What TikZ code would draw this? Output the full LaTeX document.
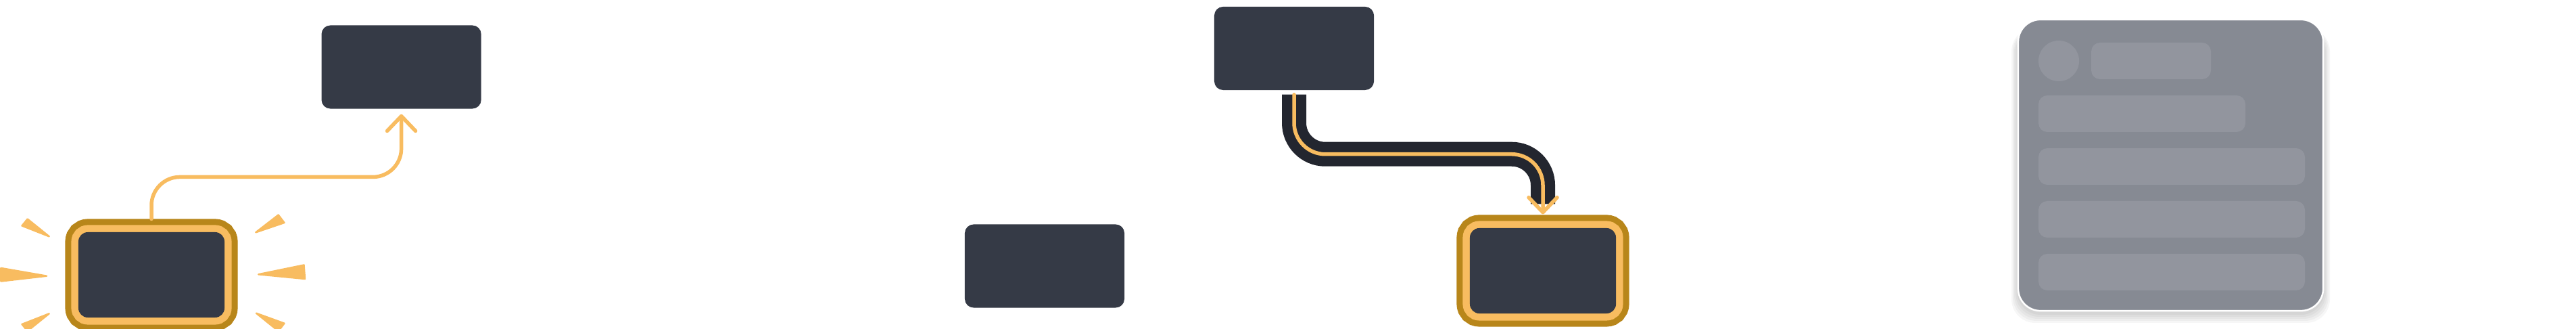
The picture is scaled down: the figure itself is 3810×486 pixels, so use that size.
\documentclass[tikz,border=0pt]{standalone}
\usepackage{tikz}
\usepackage{xcolor}
\usetikzlibrary{arrows.meta}

\definecolor{slate}{HTML}{353A46}
\definecolor{wire}{HTML}{23262F}
\definecolor{glow}{HTML}{F8BC60}
\definecolor{gold}{HTML}{B8861A}
\definecolor{cardgray}{HTML}{868A93}
\definecolor{bone}{HTML}{92959E}

\tikzset{
    block/.style={rectangle, rounded corners=0.13cm, fill=slate, inner sep=0pt,
        minimum width=2.36cm, minimum height=1.23cm},
    litblock/.style={block, rounded corners=0.14cm, minimum width=2.16cm,
        minimum height=1.26cm, outer sep=0.195cm,
        preaction={draw=gold, line width=0.39cm},
        preaction={draw=glow, line width=0.21cm}},
    flow/.style={draw=glow, line width=0.055cm, line cap=round, rounded corners=0.42cm,
        -{Straight Barb[length=0.22cm, width=0.42cm, round]}},
    track/.style={draw=wire, line width=0.36cm, rounded corners=0.46cm},
    ray/.style={fill=glow, draw=glow, line width=0.025cm, line join=round},
    card/.style={rectangle, rounded corners=0.33cm, fill=cardgray, draw=white,
        line width=0.025cm, inner sep=0pt, minimum width=4.51cm, minimum height=4.30cm},
    skeleton/.style={fill=bone, rounded corners=0.13cm}
}

\begin{document}
    \begin{tikzpicture}[x=0.01cm, y=-0.01cm]
        \useasboundingbox (0,0) rectangle (3810,486);

        % Draw the glowing block and its sparkle rays
        \node[litblock] (lit1) at (224,406) {};
        \node[block] (top1) at (593.6,99) {};
        \foreach \t/\a/\b in {{(72.7,349.3)}/{(32.5,333.5)}/{(40.7,323.5)},
                              {(69,407.7)}/{(1.5,396)}/{(1.5,415.5)},
                              {(72.7,463.3)}/{(32.5,479)}/{(40.7,489)},
                              {(378.3,343.3)}/{(411.7,317.5)}/{(420.5,329)},
                              {(382.3,405.3)}/{(449.5,391.5)}/{(451,412)},
                              {(379,462.7)}/{(420.5,477.7)}/{(411.7,489)}}
            \filldraw[ray] \t -- \a -- \b -- cycle;
        \draw[flow, shorten >=0.075cm] (lit1.north) -- ++(0,-62) -| (top1.south);

        % Draw the plain block
        \node[block] (plain) at (1545,393) {};

        % Draw the highlighted route between two blocks
        \node[block] (top2) at (1914,71.5) {};
        \node[litblock] (lit2) at (2282,400) {};
        \draw[track, shorten <=0.06cm, shorten >=0.16cm] (top2.south) -- ++(0,94) -| (lit2.north);
        \draw[flow, rounded corners=0.46cm, shorten <=0.06cm, shorten >=0.01cm]
            (top2.south) -- ++(0,94) -| (lit2.north);

        % Draw the loading card
        \foreach \i in {1,...,5}
            \fill[black, opacity=0.035, rounded corners=0.35cm]
                (2985-2*\i,41) rectangle (3436+2*\i,462+3*\i);
        \node[card] (card) at (3210.5,244) {};
        \fill[bone] (3045,90) circle (0.3cm);
        \fill[skeleton] (3093,63) rectangle (3270,117);
        \fill[skeleton] (3015,141) rectangle (3321,195);
        \foreach \y in {219,297,375}
            \fill[skeleton] (3015,\y) rectangle (3409,\y+54);
    \end{tikzpicture}
\end{document}
